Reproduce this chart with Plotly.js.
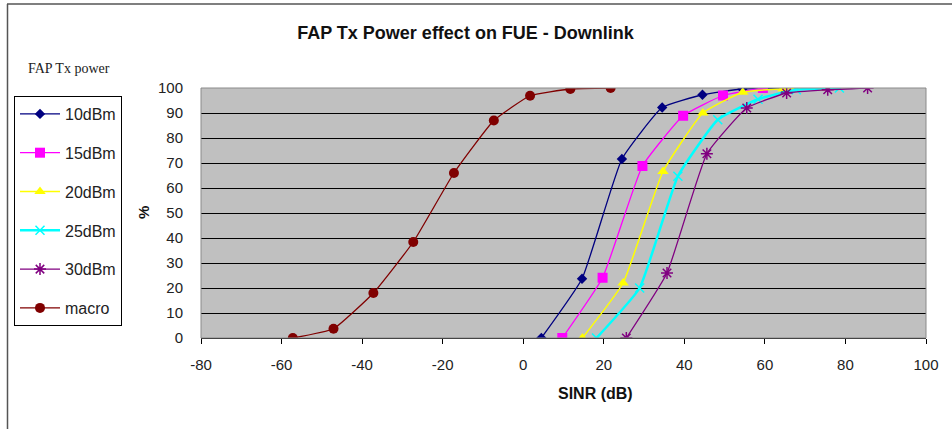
<!DOCTYPE html>
<html>
<head>
<meta charset="utf-8">
<script src="https://cdn.plot.ly/plotly-3.0.1.min.js"></script>
<style>
html,body{margin:0;padding:0;background:#fff;}
#chart{width:952px;height:429px;}
</style>
</head>
<body>
<div id="chart"></div>
<script>
// Data
const seriesNames = ["10dBm", "15dBm", "20dBm", "25dBm", "30dBm", "macro"];

const x10 = [4.5, 14.6, 24.5, 34.5, 44.5, 54.4, 64.5];
const y10 = [0, 23.7, 71.6, 92.2, 97.3, 99.6, 100];

const x15 = [9.7, 19.7, 29.6, 39.7, 49.6, 59.5];
const y15 = [0, 24.1, 68.8, 88.9, 97, 100];

const x20 = [14.7, 24.8, 34.7, 44.6, 54.5, 64.5, 74.4];
const y20 = [0, 22, 66.6, 90, 98.3, 99.7, 100];

const x25 = [18.2, 28.9, 38.4, 48.3, 58.3, 67.8, 78.5];
const y25 = [0, 20, 64.7, 87.3, 95.5, 99.3, 100];

const x30 = [25.6, 35.7, 45.6, 55.5, 65.4, 75.6, 85.5];
const y30 = [0, 26, 73.7, 92, 98, 99.3, 100];

const xMacro = [-57.2, -47.1, -37.2, -27.3, -17.2, -7.3, 1.7, 11.7, 21.7];
const yMacro = [0, 3.7, 18, 38.4, 66, 87, 96.9, 99.6, 100];

const xTicks = [-80, -60, -40, -20, 0, 20, 40, 60, 80, 100];
const yTicks = [0, 10, 20, 30, 40, 50, 60, 70, 80, 90, 100];

const xs = [x10, x15, x20, x25, x30, xMacro];
const ys = [y10, y15, y20, y25, y30, yMacro];
const lineColors = ["#000080", "#FF00FF", "#FFFF00", "#00FFFF", "#800080", "#800000"];
const markerSymbols = ["diamond", "square", "triangle-up", "x-thin-open", "asterisk-open", "circle"];
const markerSizes = [8, 10, 10, 9, 10, 10];
const lineWidths = [1.3, 1.3, 1.5, 2.5, 1.3, 1.3];

const traces = seriesNames.map((name, i) => ({
  type: "scatter",
  mode: "lines+markers",
  name: name,
  x: xs[i],
  y: ys[i],
  legendgroup: name,
  line: {color: lineColors[i], width: lineWidths[i], shape: "spline", smoothing: 0.4},
  marker: {
    symbol: markerSymbols[i],
    size: markerSizes[i],
    color: lineColors[i],
    line: {color: lineColors[i], width: (i === 3 || i === 4) ? 1.5 : 0}
  }
}));

const W = 952, H = 429;
const mL = 201, mR = 26, mT = 88, mB = 91;
const plotW = W - mL - mR, plotH = H - mT - mB;
function px(x) { return (x - mL) / plotW; }
function py(y) { return (H - mB - y) / plotH; }

const layout = {
  width: W,
  height: H,
  paper_bgcolor: "#ffffff",
  plot_bgcolor: "#C0C0C0",
  margin: {l: mL, r: mR, t: mT, b: mB},
  font: {family: "Liberation Sans, Arial, sans-serif", size: 15, color: "#222"},
  title: {
    text: "<b>FAP Tx Power effect on FUE - Downlink</b>",
    font: {family: "Liberation Sans, Arial, sans-serif", size: 18, color: "#111"},
    x: 0.489, xanchor: "center", y: 1 - 33 / H, yanchor: "middle"
  },
  xaxis: {
    range: [-80, 100],
    tickvals: xTicks,
    ticktext: xTicks.map(String),
    showgrid: false,
    zeroline: false,
    showline: true,
    linecolor: "#000",
    linewidth: 1,
    ticks: "outside",
    ticklen: 5,
    tickcolor: "#000",
    ticklabelstandoff: 8,
    tickfont: {size: 15, color: "#222"}
  },
  yaxis: {
    range: [0, 100],
    tickvals: yTicks,
    ticktext: yTicks.map(String),
    showgrid: true,
    gridcolor: "#000",
    gridwidth: 1,
    zeroline: false,
    showline: false,
    ticks: "",
    ticklabelstandoff: 17,
    tickfont: {size: 15, color: "#222"}
  },
  showlegend: true,
  legend: {
    x: px(14), xanchor: "left",
    y: py(96), yanchor: "top",
    bordercolor: "#000",
    borderwidth: 1,
    bgcolor: "#ffffff",
    font: {family: "Liberation Sans, Arial, sans-serif", size: 16, color: "#222"},
    tracegroupgap: 15,
    itemwidth: 40
  },
  shapes: [
    {type: "rect", xref: "paper", yref: "paper", x0: 0, x1: 1, y0: 0, y1: 1,
     line: {color: "#8a8a8a", width: 1}, fillcolor: "rgba(0,0,0,0)", layer: "above"},
    {type: "line", xref: "paper", yref: "paper", x0: px(7), x1: px(952), y0: py(4), y1: py(4),
     line: {color: "#555", width: 1.5}},
    {type: "line", xref: "paper", yref: "paper", x0: px(7.5), x1: px(7.5), y0: py(4), y1: py(429),
     line: {color: "#555", width: 1.5}}
  ],
  annotations: [
    {text: "FAP Tx power", xref: "paper", yref: "paper", showarrow: false,
     x: px(26), y: py(69), xanchor: "left", yanchor: "middle",
     font: {family: "Liberation Serif, Times New Roman, serif", size: 14, color: "#222"}},
    {text: "<b>SINR (dB)</b>", xref: "paper", yref: "paper", showarrow: false,
     x: px(595), y: py(393), xanchor: "center", yanchor: "middle",
     font: {family: "Liberation Sans, Arial, sans-serif", size: 16, color: "#111"}},
    {text: "<b>%</b>", xref: "paper", yref: "paper", showarrow: false, textangle: -90,
     x: px(143), y: py(213), xanchor: "center", yanchor: "middle",
     font: {family: "Liberation Sans, Arial, sans-serif", size: 15, color: "#111"}}
  ]
};

Plotly.newPlot("chart", traces, layout, {displayModeBar: false, staticPlot: true});
</script>
</body>
</html>
